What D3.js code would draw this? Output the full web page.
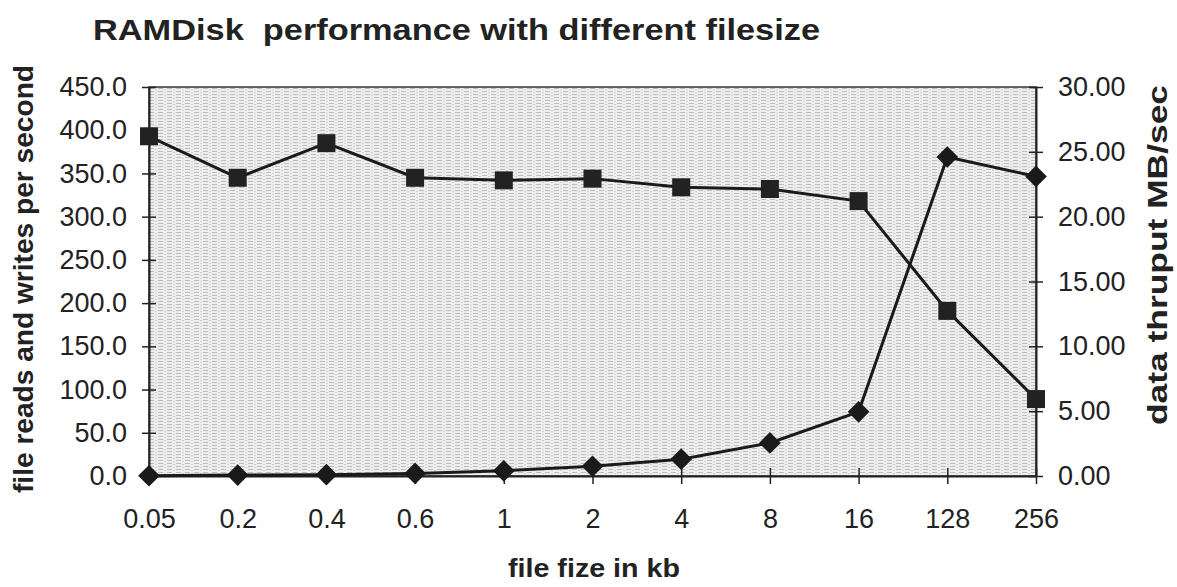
<!DOCTYPE html>
<html>
<head>
<meta charset="utf-8">
<script src="https://cdn.jsdelivr.net/npm/d3@7"></script>
<style>
  body { margin: 0; background: #fff; }
  text { font-family: "Liberation Sans", Arial, sans-serif; fill: #222; }
</style>
</head>
<body>
<div id="chart"></div>
<script>
// file size categories (kb)
const fileSizes = ['0.05', '0.2', '0.4', '0.6', '1', '2', '4', '8', '16', '128', '256'];
// file reads and writes per second (left axis, squares)
const opsPerSec = [393, 345, 385, 345, 342, 344, 334, 332, 318, 191, 89];
// data thruput MB/sec (right axis, diamonds)
const thruput = [0.02, 0.07, 0.1, 0.2, 0.4, 0.75, 1.3, 2.55, 4.95, 24.6, 23.1];

const leftTicks = d3.range(0, 451, 50);
const rightTicks = d3.range(0, 31, 5);

const W = 1177, H = 587;
const M = { top: 87, right: 141, bottom: 111, left: 149 };
const innerW = W - M.left - M.right;
const innerH = H - M.top - M.bottom;

const svg = d3.select('#chart').append('svg')
  .attr('width', W).attr('height', H);

// stippled gray background like the scanned chart
const defs = svg.append('defs');
const pat = defs.append('pattern')
  .attr('id', 'stipple').attr('patternUnits', 'userSpaceOnUse')
  .attr('width', 9).attr('height', 3);
pat.append('rect').attr('width', 9).attr('height', 3).attr('fill', '#eeeeee');
pat.append('rect').attr('x', 0).attr('y', 1).attr('width', 5).attr('height', 1).attr('fill', '#bdbdbd');
pat.append('rect').attr('x', 6).attr('y', 2).attr('width', 2).attr('height', 1).attr('fill', '#d2d2d2');

const g = svg.append('g').attr('transform', `translate(${M.left},${M.top})`);

const x = d3.scalePoint().domain(fileSizes).range([0, innerW]).padding(0);
const yL = d3.scaleLinear().domain([0, 450]).range([innerH, 0]);
const yR = d3.scaleLinear().domain([0, 30]).range([innerH, 0]);

g.append('rect')
  .attr('width', innerW).attr('height', innerH)
  .attr('fill', 'url(#stipple)')
  .attr('stroke', '#333').attr('stroke-width', 1.5);

// axes
const leftAxis = g.append('g')
  .call(d3.axisLeft(yL).tickValues(leftTicks).tickFormat(d3.format('.1f'))
    .tickSizeInner(7).tickSizeOuter(0).tickPadding(15));
const rightAxis = g.append('g').attr('transform', `translate(${innerW},0)`)
  .call(d3.axisRight(yR).tickValues(rightTicks).tickFormat(d3.format('.2f'))
    .tickSizeInner(7).tickSizeOuter(0).tickPadding(15));
const bottomAxis = g.append('g').attr('transform', `translate(0,${innerH})`)
  .call(d3.axisBottom(x).tickSizeInner(8).tickSizeOuter(0).tickPadding(25));

[leftAxis, rightAxis, bottomAxis].forEach(a => {
  a.select('.domain').attr('stroke', '#222').attr('stroke-width', 2);
  a.selectAll('.tick line').attr('stroke', '#222').attr('stroke-width', 1.5);
  a.selectAll('.tick text').attr('font-size', 27).attr('fill', '#222')
    .style('font-family', '"Liberation Sans", Arial, sans-serif');
});
// ticks cross the axis line
leftAxis.selectAll('.tick line').attr('x1', 7);
rightAxis.selectAll('.tick line').attr('x1', -7);
bottomAxis.selectAll('.tick line').attr('y1', -8);

// lines
const lineL = d3.line().x((d, i) => x(fileSizes[i])).y(d => yL(d));
const lineR = d3.line().x((d, i) => x(fileSizes[i])).y(d => yR(d));

g.append('path').datum(opsPerSec).attr('d', lineL)
  .attr('fill', 'none').attr('stroke', '#1a1a1a').attr('stroke-width', 3);
g.append('path').datum(thruput).attr('d', lineR)
  .attr('fill', 'none').attr('stroke', '#1a1a1a').attr('stroke-width', 3);

// markers
g.selectAll('.sq').data(opsPerSec).join('rect')
  .attr('class', 'sq')
  .attr('x', (d, i) => x(fileSizes[i]) - 9)
  .attr('y', d => yL(d) - 9)
  .attr('width', 18).attr('height', 18)
  .attr('fill', '#222');

const diamond = d3.symbol().type(d3.symbolDiamond2).size(300);
g.selectAll('.dm').data(thruput).join('path')
  .attr('class', 'dm')
  .attr('transform', (d, i) => `translate(${x(fileSizes[i])},${yR(d)})`)
  .attr('d', diamond)
  .attr('fill', '#1a1a1a');

// titles
svg.append('text')
  .attr('x', 93).attr('y', 40)
  .attr('font-size', 30).attr('font-weight', 'bold')
  .attr('textLength', 727).attr('lengthAdjust', 'spacingAndGlyphs')
  .style('white-space', 'pre')
  .text('RAMDisk  performance with different filesize');

svg.append('text')
  .attr('x', 594).attr('y', 577)
  .attr('text-anchor', 'middle')
  .attr('font-size', 26).attr('font-weight', 'bold')
  .attr('textLength', 172).attr('lengthAdjust', 'spacingAndGlyphs')
  .text('file fize in kb');

svg.append('text')
  .attr('transform', `translate(33,279) rotate(-90)`)
  .attr('text-anchor', 'middle')
  .attr('font-size', 27).attr('font-weight', 'bold')
  .attr('textLength', 428).attr('lengthAdjust', 'spacingAndGlyphs')
  .text('file reads and writes per second');

svg.append('text')
  .attr('transform', `translate(1167,255) rotate(-90)`)
  .attr('text-anchor', 'middle')
  .attr('font-size', 27).attr('font-weight', 'bold')
  .attr('textLength', 340).attr('lengthAdjust', 'spacingAndGlyphs')
  .text('data thruput MB/sec');
</script>
</body>
</html>
